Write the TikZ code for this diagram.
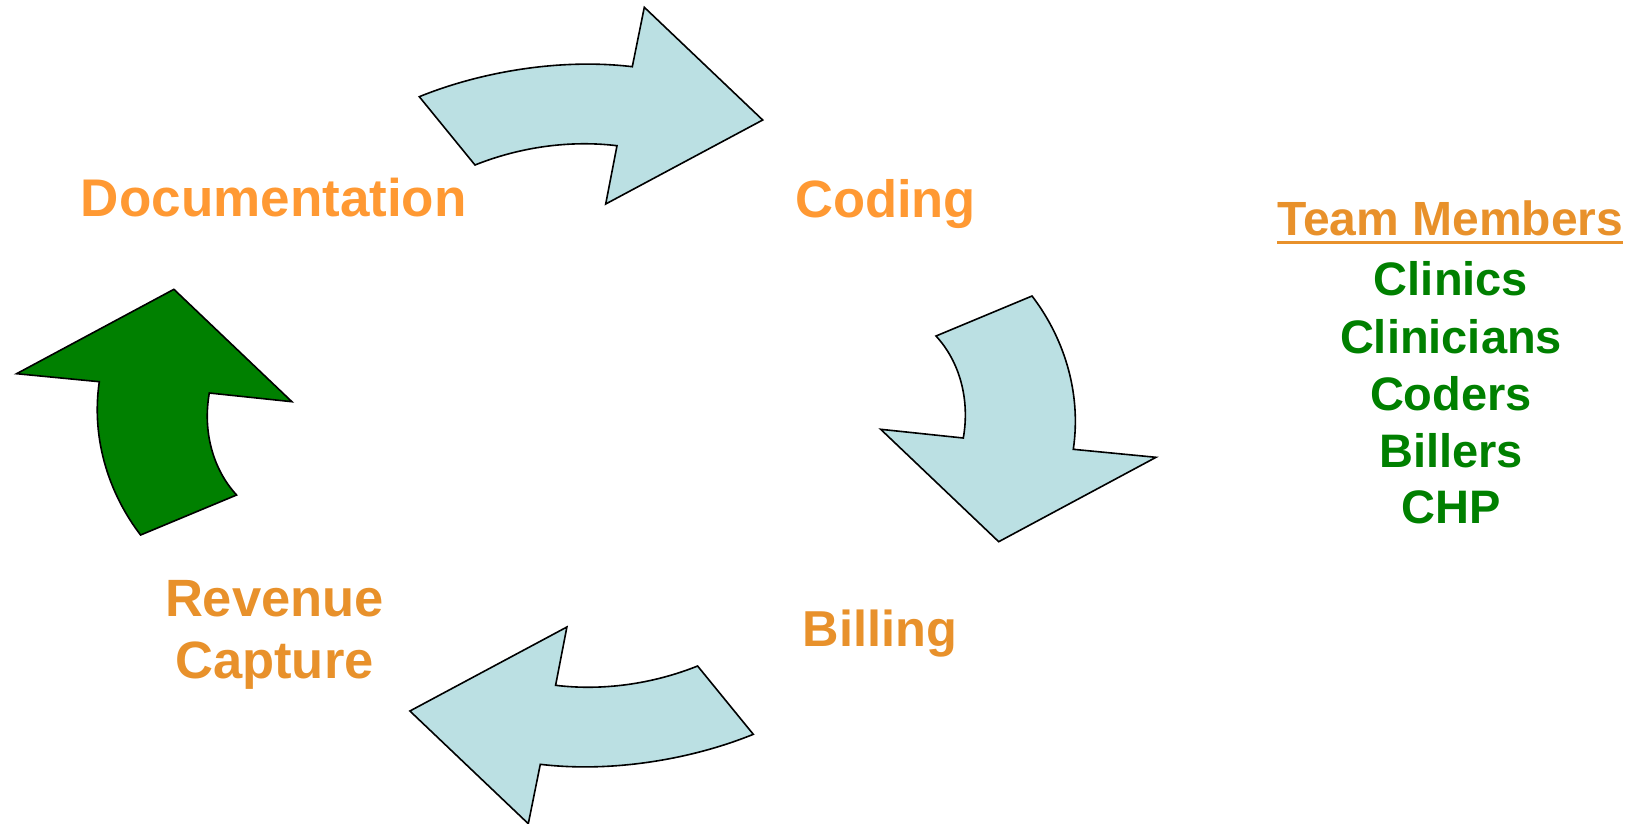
\documentclass[tikz,border=0pt]{standalone}
\usepackage{fontspec}
\setmainfont{Liberation Sans}
\definecolor{lorange}{HTML}{FF9933}
\definecolor{dorange}{HTML}{E8912B}
\definecolor{dgreen}{HTML}{008000}
\definecolor{arrowblue}{HTML}{BBE0E3}
\begin{document}
\begin{tikzpicture}[x=1pt,y=-1pt,
  arrowshape/.style={draw=black,line width=1.6pt,line join=miter},
  lbl/.style={inner sep=0pt,anchor=base,font=\bfseries},
  listlbl/.style={inner sep=0pt,anchor=base,font=\bfseries\fontsize{47}{57}\selectfont,text=dgreen}]
\useasboundingbox (0,0) rectangle (1641,823);
% top arrow (Documentation -> Coding)
\def\toparrow{(419.3,96.7) .. controls (480,72) and (560,58) .. (632.3,66.7)
  -- (644.3,7.3) -- (762.7,120) -- (605.7,204) -- (617,145.7)
  .. controls (570,140) and (520,147) .. (475,165) -- cycle}
\def\rightarrow{(936,336) -- (1032,296)
  .. controls (1062,335) and (1082,390) .. (1073.3,449.3)
  -- (1156,457.3) -- (998.7,541.7) -- (880.7,429.3) -- (963.3,438)
  .. controls (970,400) and (960,362) .. (936,336) -- cycle}
\fill[arrowblue] \toparrow;
\draw[arrowshape] \toparrow;
\begin{scope}[rotate around={180:(586.3,415.5)}]
\fill[arrowblue] \toparrow;
\draw[arrowshape] \toparrow;
\end{scope}
\fill[arrowblue] \rightarrow;
\draw[arrowshape] \rightarrow;
\begin{scope}[rotate around={180:(586.3,415.5)}]
\fill[dgreen] \rightarrow;
\draw[arrowshape] \rightarrow;
\end{scope}
% labels
\node[lbl,text=lorange,font=\bfseries\fontsize{53}{60}\selectfont] (doc) at (273.8,216.7) {Documentation};
\node[lbl,text=lorange,font=\bfseries\fontsize{52.5}{60}\selectfont] (cod) at (885.5,217.3) {Coding};
\node[lbl,text=dorange,font=\bfseries\fontsize{50.5}{60}\selectfont] (bil) at (880,646.7) {Billing};
\node[lbl,text=dorange,font=\bfseries\fontsize{52.5}{62}\selectfont,align=center] (rev) at (274.5,678.3) {Revenue\\Capture};
\node[lbl,text=dorange,font=\bfseries\fontsize{48}{57}\selectfont] (tm) at (1450.3,235) {Team Members};
\draw[dorange,line width=3pt] ([yshift=-7.7pt]tm.base west) -- ([yshift=-7.7pt]tm.base east);
\node[listlbl] (l1) at (1451,295) {Clinics};
\node[listlbl] (l2) at (1451,353.3) {Clinicians};
\node[listlbl] (l3) at (1451,410.7) {Coders};
\node[listlbl] (l4) at (1451,467.3) {Billers};
\node[listlbl] (l5) at (1451,523.3) {CHP};
\end{tikzpicture}
\end{document}
